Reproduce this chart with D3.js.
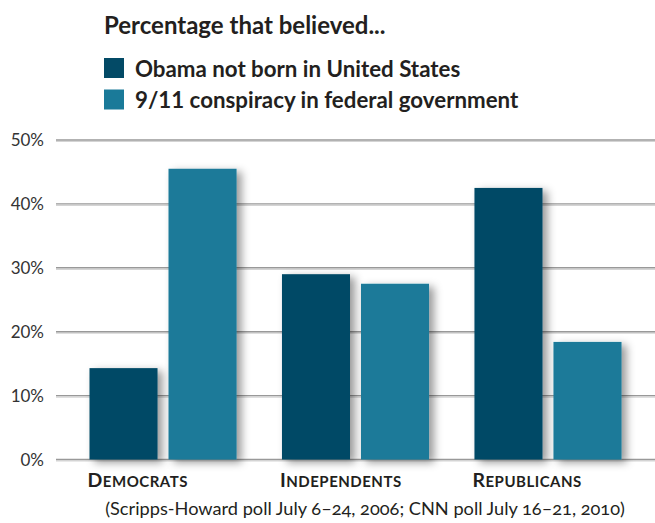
<!DOCTYPE html>
<html>
<head>
<meta charset="utf-8">
<script src="https://cdn.jsdelivr.net/npm/d3@7"></script>
<style>
  body { margin: 0; background: #fff; }
  text { font-family: Lato, "Open Sans", sans-serif; fill: #231f20; }
</style>
</head>
<body>
<script>
//width and height of svg
var w = 655;
var h = 523;

//categories, series and values (percent)
var categories = ["Democrats", "Independents", "Republicans"];
var seriesNames = ["Obama not born in United States", "9/11 conspiracy in federal government"];
var obamaValues = [14.3, 29.0, 42.5];
var conspiracyValues = [45.5, 27.5, 18.4];
var tickValues = [0, 10, 20, 30, 40, 50];
var footnote = "(Scripps-Howard poll July 6\u201324, 2006; CNN poll July 16\u201321, 2010)";

var colors = ["#034a66", "#1a7a99"];

//build rows for the grouped bars
var dataset = categories.map(function(c, i) {
    return { cat: c, values: [obamaValues[i], conspiracyValues[i]] };
});

var svg = d3.select("body")
            .append("svg")
            .attr("width", w)
            .attr("height", h);

//soft shadow behind the bars
var defs = svg.append("defs");
var f = defs.append("filter")
            .attr("id", "shadow")
            .attr("x", "-20%").attr("y", "-20%")
            .attr("width", "160%").attr("height", "140%");
f.append("feDropShadow")
    .attr("dx", 5).attr("dy", 3)
    .attr("stdDeviation", 4)
    .attr("flood-color", "#000")
    .attr("flood-opacity", 0.4);

//scales
var x0 = d3.scaleBand()
            .domain(categories)
            .range([56, 655])
            .paddingInner(0.236)
            .paddingOuter(0.174);

var x1 = d3.scaleBand()
            .domain(d3.range(seriesNames.length))
            .range([0, x0.bandwidth()])
            .paddingInner(0.139);

var yScale = d3.scaleLinear()
                .domain([0, 50])
                .range([459.5, 140]);

//gridlines
var grid = svg.append("g");
grid.selectAll("line.shade")
    .data(tickValues)
    .enter()
    .append("line")
    .attr("class", "shade")
    .attr("x1", 56).attr("x2", w)
    .attr("y1", function(d) { return yScale(d) + 1.5; })
    .attr("y2", function(d) { return yScale(d) + 1.5; })
    .attr("stroke", "#d4d4d4")
    .attr("stroke-width", 1.2);
grid.selectAll("line.main")
    .data(tickValues)
    .enter()
    .append("line")
    .attr("class", "main")
    .attr("x1", 56).attr("x2", w)
    .attr("y1", function(d) { return yScale(d); })
    .attr("y2", function(d) { return yScale(d); })
    .attr("stroke", "#999")
    .attr("stroke-width", 1.4);

//tick labels
svg.append("g")
    .selectAll("text")
    .data(tickValues)
    .enter()
    .append("text")
    .attr("x", 44)
    .attr("y", function(d) { return yScale(d); })
    .attr("dy", "0.36em")
    .attr("text-anchor", "end")
    .style("font-size", "17px")
    .style("fill", "#333")
    .text(function(d) { return d + "%"; });

//bars
var groups = svg.selectAll("g.group")
                .data(dataset)
                .enter()
                .append("g")
                .attr("class", "group")
                .attr("transform", function(d) { return "translate(" + x0(d.cat) + ",0)"; });

groups.selectAll("rect")
    .data(function(d) { return d.values; })
    .enter()
    .append("rect")
    .attr("x", function(d, i) { return x1(i); })
    .attr("y", function(d) { return yScale(d); })
    .attr("width", x1.bandwidth())
    .attr("height", function(d) { return yScale(0) - yScale(d); })
    .attr("fill", function(d, i) { return colors[i]; })
    .attr("filter", "url(#shadow)");

//category labels in small caps
var catLabels = svg.append("g")
    .selectAll("text")
    .data(categories)
    .enter()
    .append("text")
    .attr("x", function(d) { return x0(d) - 2; })
    .attr("y", 487)
    .style("font-weight", "bold")
    .style("letter-spacing", "0.5px");
catLabels.append("tspan")
    .style("font-size", "19.5px")
    .text(function(d) { return d.charAt(0).toUpperCase(); });
catLabels.append("tspan")
    .style("font-size", "15px")
    .text(function(d) { return d.slice(1).toUpperCase(); });

//footnote
svg.append("text")
    .attr("x", 365)
    .attr("y", 515)
    .attr("text-anchor", "middle")
    .style("font-size", "18.2px")
    .style("font-variant-numeric", "oldstyle-nums")
    .text(footnote);

//title and legend
svg.append("text")
    .attr("x", 104)
    .attr("y", 34)
    .style("font-size", "24px")
    .style("font-weight", "bold")
    .text("Percentage that believed...");

var legend = svg.selectAll("g.legend")
                .data(seriesNames)
                .enter()
                .append("g")
                .attr("class", "legend")
                .attr("transform", function(d, i) { return "translate(104," + (58 + i * 31.5) + ")"; });
legend.append("rect")
    .attr("width", 20)
    .attr("height", 20)
    .attr("fill", function(d, i) { return colors[i]; });
legend.append("text")
    .attr("x", 31)
    .attr("y", 18.5)
    .style("font-size", "22.3px")
    .style("font-weight", "bold")
    .text(function(d) { return d; });
</script>
</body>
</html>
